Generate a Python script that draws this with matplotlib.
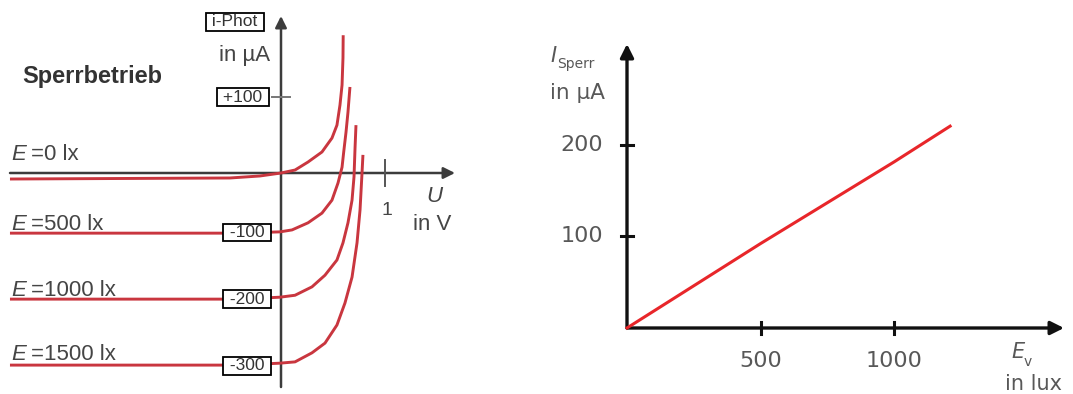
import matplotlib.pyplot as plt

plt.rcParams["font.family"] = ["Liberation Sans", "DejaVu Sans"]

# ---- Daten links: Kennlinien der Fotodiode (U in V, I in µA)
labels_E = ["0", "500", "1000", "1500"]
U_0 = [-2.606, -0.49, -0.202, 0.0, 0.135, 0.26, 0.394, 0.49, 0.538, 0.567, 0.587, 0.596, 0.598]
I_0 = [-9.3, -7.7, -4.6, 0.0, 4.6, 17, 32.5, 54, 74, 105, 136, 178, 213]
U_500 = [-2.606, -0.394, -0.01, 0.106, 0.26, 0.394, 0.49, 0.548, 0.587, 0.603, 0.625, 0.644,
         0.663]
I_500 = [-93, -93, -91, -88, -77, -62, -42, -15.5, 9, 32.5, 63, 94, 133]
U_1000 = [-2.606, -0.394, -0.01, 0.135, 0.298, 0.423, 0.538, 0.596, 0.644, 0.683, 0.702,
          0.712, 0.721]
I_1000 = [-195, -195, -192, -189, -176, -158, -134.5, -108, -77, -42, -6, 39, 74]
U_1500 = [-2.606, -0.394, -0.01, 0.135, 0.298, 0.423, 0.538, 0.615, 0.683, 0.731, 0.76,
          0.779, 0.788]
I_1500 = [-297, -297, -294, -292, -278, -263, -235, -201, -161, -108, -57, 0, 28]
curves = [(U_0, I_0), (U_500, I_500), (U_1000, I_1000), (U_1500, I_1500)]

# Beschriftete Stromwerte an der y-Achse
i_tick_pos = [117, -92, -195, -298]
i_tick_lab = ["+100", "-100", "-200", "-300"]

# ---- Daten rechts: Sperrstrom über Beleuchtungsstärke
E_v = [0, 500, 1000, 1210]
I_sperr = [0, 92, 181, 220]
ev_ticks = [500, 1000]
is_ticks = [100, 200]

W, H = 1073, 394
RED = "#c9363f"
RED2 = "#e8262a"
GREY = "#3c3c3c"
TXT = "#454545"
TXT_R = "#585858"

fig = plt.figure(figsize=(W / 100, H / 100), dpi=100)


def fx(px):
    return px / W


def fy(py):
    return 1 - py / H


# ======================= linkes Diagramm =======================
axL = fig.add_axes([0, 0, 470 / W, 1])
axL.set_axis_off()
# Pixel-Maßstab: Ursprung bei (281, 173), 104 px/V, 1.546 µA/px
x0, y0, sx, sy = 281, 173, 104.0, 1.546
axL.set_xlim(-x0 / sx, (470 - x0) / sx)
axL.set_ylim(-(H - y0) * sy, y0 * sy)

for U, I in curves:
    axL.plot(U, I, color=RED, lw=2.1, solid_joinstyle="round", solid_capstyle="butt",
             zorder=3)

# Achsen mit Pfeilen
axL.annotate("", xy=((455 - x0) / sx, 0), xytext=((10 - x0) / sx, 0),
             arrowprops=dict(arrowstyle="-|>", color=GREY, lw=1.8, mutation_scale=17,
                             shrinkA=0, shrinkB=0), zorder=2)
axL.annotate("", xy=(0, (y0 - 16) * sy), xytext=(0, -(387 - y0) * sy),
             arrowprops=dict(arrowstyle="-|>", color=GREY, lw=1.8, mutation_scale=17,
                             shrinkA=0, shrinkB=0), zorder=2)
# Teilstriche
axL.plot([1, 1], [20, -20], color="#555555", lw=1.4)
axL.plot([-0.09, 0.09], [i_tick_pos[0]] * 2, color="#777777", lw=1.4)

for pos, lab in zip(i_tick_pos, i_tick_lab):
    xc = 243 if lab.startswith("+") else 247
    fig.text(fx(xc), fy(y0 - pos / sy), " " + lab + " ", ha="center", va="center",
             fontsize=12.5, color="#333333",
             bbox=dict(boxstyle="square,pad=0.08", fc="white", ec="black", lw=1.3))

fig.text(fx(235), fy(22), " i-Phot ", ha="center", va="center", fontsize=12.5,
         color="#333333",
         bbox=dict(boxstyle="square,pad=0.08", fc="white", ec="black", lw=1.3))
fig.text(fx(245), fy(56), "in µA", ha="center", va="center", fontsize=16, color=TXT)
fig.text(fx(22), fy(76), "Sperrbetrieb", ha="left", va="center", fontsize=17,
         fontweight="bold", color="#333333")

label_y = [155, 225, 290, 355]
for lab, py in zip(labels_E, label_y):
    fig.text(fx(11), fy(py), "E", ha="left", va="center", fontsize=16, style="italic",
             color=TXT)
    fig.text(fx(31), fy(py), "=" + lab + " lx", ha="left", va="center", fontsize=16,
             color=TXT)

fig.text(fx(387), fy(210), "1", ha="center", va="center", fontsize=14, color=TXT)
fig.text(fx(434), fy(197), "U", ha="center", va="center", fontsize=16, style="italic",
         color=TXT)
fig.text(fx(432), fy(225), "in V", ha="center", va="center", fontsize=16, color=TXT)

# ======================= rechtes Diagramm =======================
axR = fig.add_axes([470 / W, 0, (W - 470) / W, 1])
axR.set_axis_off()
# Ursprung bei (627, 328), 3.745 lux/px, 1.09 µA/px
x0r, y0r, sxr, syr = 627, 328, 3.745, 1.09
axR.set_xlim((470 - x0r) * sxr, (W - x0r) * sxr)
axR.set_ylim(-(H - y0r) * syr, y0r * syr)

axR.plot(E_v, I_sperr, color=RED2, lw=2.2, zorder=3)

axR.annotate("", xy=((1064 - x0r) * sxr, 0), xytext=(0, 0),
             arrowprops=dict(arrowstyle="-|>", color="#111111", lw=2.4, mutation_scale=20,
                             shrinkA=0, shrinkB=0), zorder=2)
axR.annotate("", xy=(0, (y0r - 44) * syr), xytext=(0, 0),
             arrowprops=dict(arrowstyle="-|>", color="#111111", lw=2.4, mutation_scale=20,
                             shrinkA=0, shrinkB=0), zorder=2)
for e in ev_ticks:
    axR.plot([e, e], [-6 * syr, 6 * syr], color="#111111", lw=2.2)
    fig.text(fx(x0r + e / sxr), fy(361), str(e), ha="center", va="center", fontsize=16,
             family="DejaVu Sans", color=TXT_R)
for i in is_ticks:
    axR.plot([-6 * sxr, 6 * sxr], [i, i], color="#111111", lw=2.2)
    fig.text(fx(603), fy(y0r - i / syr), str(i), ha="right", va="center", fontsize=16,
             family="DejaVu Sans", color=TXT_R)

fig.text(fx(550), fy(56), "I", ha="left", va="center", fontsize=15, style="italic",
         family="DejaVu Sans", color=TXT_R)
fig.text(fx(557), fy(64), "Sperr", ha="left", va="center", fontsize=10,
         family="DejaVu Sans", color=TXT_R)
fig.text(fx(550), fy(93), "in µA", ha="left", va="center", fontsize=15.5,
         family="DejaVu Sans", color=TXT_R)
fig.text(fx(1011), fy(352), "E", ha="left", va="center", fontsize=15, style="italic",
         family="DejaVu Sans", color=TXT_R)
fig.text(fx(1024), fy(362), "v", ha="left", va="center", fontsize=10,
         family="DejaVu Sans", color=TXT_R)
fig.text(fx(1005), fy(384), "in lux", ha="left", va="center", fontsize=15,
         family="DejaVu Sans", color=TXT_R)

fig.savefig("out.png", dpi=100)
